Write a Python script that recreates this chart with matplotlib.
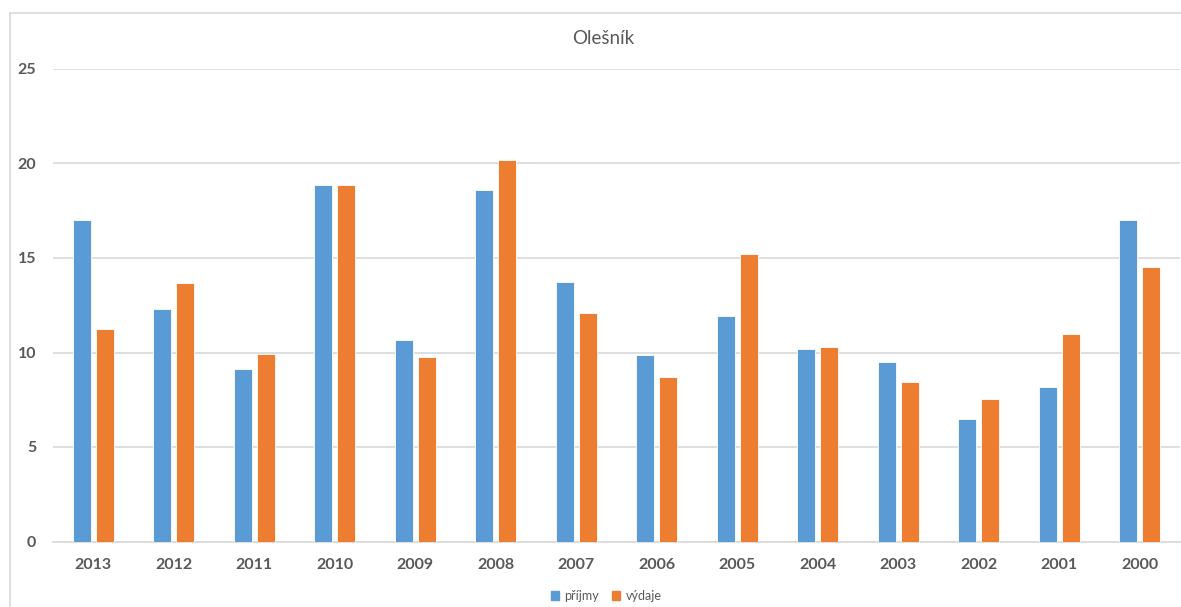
import numpy as np
import matplotlib.pyplot as plt
from matplotlib.lines import Line2D
from matplotlib.patches import Patch

plt.rcParams['font.family'] = ['Lato', 'DejaVu Sans']

# data
years = ['2013', '2012', '2011', '2010', '2009', '2008', '2007',
         '2006', '2005', '2004', '2003', '2002', '2001', '2000']
prijmy = [17.0, 12.3, 9.15, 18.85, 10.65, 18.6, 13.75,
          9.85, 11.95, 10.2, 9.5, 6.5, 8.15, 17.0]
vydaje = [11.25, 13.7, 9.9, 18.85, 9.75, 20.2, 12.1,
          8.7, 15.2, 10.3, 8.45, 7.55, 11.0, 14.5]

blue = '#5B9BD5'
orange = '#ED7D31'
grey = '#595959'

fig = plt.figure(figsize=(11.81, 6.07), dpi=100)
ax = fig.add_axes([53 / 1181, 65.5 / 607, 1127 / 1181, 472.5 / 607])

x = np.arange(len(years))
w = 0.22
gap = 0.066
ax.bar(x - (w + gap) / 2, prijmy, w, color=blue, edgecolor='white', linewidth=0.6, zorder=3)
ax.bar(x + (w + gap) / 2, vydaje, w, color=orange, edgecolor='white', linewidth=0.6, zorder=3)

ax.set_xlim(-0.5, len(years) - 0.5)
ax.set_ylim(0, 25)
ax.set_yticks([0, 5, 10, 15, 20, 25])
ax.set_xticks(x)
ax.set_xticklabels(years)
ax.grid(axis='y', color='#D9D9D9', linewidth=1.2, zorder=0)
for s in ['top', 'right', 'left']:
    ax.spines[s].set_visible(False)
ax.spines['bottom'].set_color('#D9D9D9')
ax.spines['bottom'].set_linewidth(1.2)
ax.tick_params(axis='both', length=0, labelcolor=grey, labelsize=11.5)
ax.tick_params(axis='y', pad=12)
ax.tick_params(axis='x', pad=12)
for lab in ax.get_xticklabels() + ax.get_yticklabels():
    lab.set_fontweight('bold')

fig.text(603 / 1181, 1 - 38 / 607, 'Olešník', ha='center', va='center',
         fontsize=13.5, color=grey)

handles = [Patch(color=blue, label='příjmy'), Patch(color=orange, label='výdaje')]
fig.legend(handles=handles, loc='center', bbox_to_anchor=(606 / 1181, 1 - 596 / 607),
           ncol=2, frameon=False, fontsize=9, labelcolor=grey,
           handlelength=0.7, handleheight=0.7, handletextpad=0.4, columnspacing=1.0)

# chart frame (cut off at right and bottom)
fig.add_artist(Line2D([10 / 1181, 1], [1 - 13 / 607, 1 - 13 / 607],
                      transform=fig.transFigure, color='#D9D9D9', linewidth=1.2))
fig.add_artist(Line2D([10 / 1181, 10 / 1181], [0, 1 - 13 / 607],
                      transform=fig.transFigure, color='#D9D9D9', linewidth=1.2))

fig.savefig('out.png', dpi=100)
